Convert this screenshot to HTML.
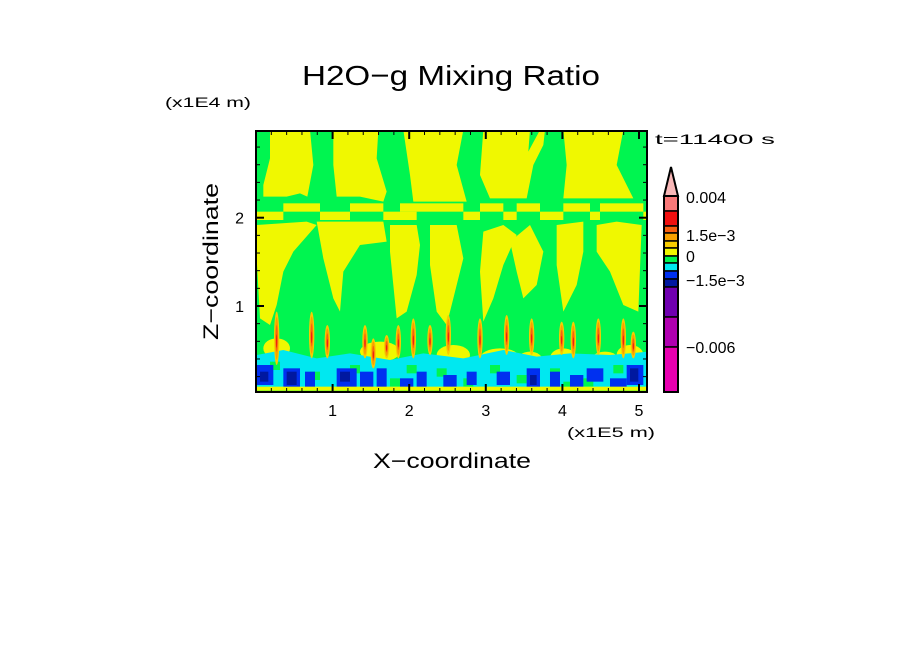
<!DOCTYPE html>
<html><head><meta charset="utf-8"><style>
html,body{margin:0;padding:0;background:#fff;}
svg{display:block;font-family:"Liberation Sans",sans-serif;}
</style></head><body>
<svg id="chart" width="904" height="654" viewBox="0 0 904 654">
<rect width="904" height="654" fill="#fff"/>
<text x="302" y="85" font-size="28" textLength="298" lengthAdjust="spacingAndGlyphs">H2O−g Mixing Ratio</text>
<text x="165" y="107" font-size="14" textLength="86" lengthAdjust="spacingAndGlyphs">(x1E4 m)</text>
<text x="655" y="144" font-size="14" textLength="120" lengthAdjust="spacingAndGlyphs">t=11400 s</text>
<text transform="translate(218,340) rotate(-90)" font-size="21" textLength="157" lengthAdjust="spacingAndGlyphs">Z−coordinate</text>
<text x="373" y="468" font-size="21" textLength="158" lengthAdjust="spacingAndGlyphs">X−coordinate</text>
<text x="567" y="437" font-size="14" textLength="88" lengthAdjust="spacingAndGlyphs">(x1E5 m)</text>
<defs><clipPath id="pc"><rect x="256" y="131" width="391" height="261"/></clipPath></defs>
<g id="field" clip-path="url(#pc)">
<rect x="256" y="131" width="391" height="261" fill="#00f550"/>
<g id="fz" transform="translate(250,125) scale(0.33333)"></g>
</g>
<rect x="256" y="131" width="391" height="261" fill="none" stroke="#000" stroke-width="2"/>
<g id="axes"></g>
<g id="cbar"></g>
</svg>
<script>
const NS="http://www.w3.org/2000/svg";
function mk(tag,attrs,parent){const e=document.createElementNS(NS,tag);for(const k in attrs)e.setAttribute(k,attrs[k]);parent.appendChild(e);return e;}
// axis data
const xTicks=[1,2,3,4,5];
const yTicks=[1,2];
const xMinorStep=0.2, yMinorStep=0.2;
const cbLevels=["0.004","1.5e-3","0","-1.5e-3","-0.006"];
const cbLabelY=[197,235,256,280,347];
const cbColors=["#f87878","#f01010","#f86010","#f8a000","#f8cc00","#f0f800","#00f550","#00e8f0","#0030f0","#0018a0","#7000b0","#b000b0","#e800b0"];
const cbEdges=[196,211,226,233,241,248,256,263,271,279,287,317,347,392];
// scales
const X0=256, XS=76.6, Y0=394.3, YS=88.3;
const sx=v=>X0+v*XS, sy=v=>Y0-v*YS;
const ax=document.getElementById('axes');
for(let v=xMinorStep;v<5.1;v+=xMinorStep){
  const major=Math.abs(v-Math.round(v))<1e-6;const L=major?8:4;
  let t=mk('line',{x1:sx(v),x2:sx(v),y1:392,y2:392-L,stroke:'#000','stroke-width':major?2:1},ax);
  
  t=mk('line',{x1:sx(v),x2:sx(v),y1:131,y2:131+L,stroke:'#000','stroke-width':major?2:1},ax);
  
}
for(let v=yMinorStep;v<2.95;v+=yMinorStep){
  const major=Math.abs(v-Math.round(v))<1e-6;const L=major?8:4;
  let t=mk('line',{x1:256,x2:256+L,y1:sy(v),y2:sy(v),stroke:'#000','stroke-width':major?2:1},ax);
  
  t=mk('line',{x1:647,x2:647-L,y1:sy(v),y2:sy(v),stroke:'#000','stroke-width':major?2:1},ax);
  
}
xTicks.forEach(v=>{const t=mk('text',{x:sx(v),y:416,'font-size':16,'text-anchor':'middle'},ax);t.textContent=v;
});
yTicks.forEach(v=>{const t=mk('text',{x:244,y:sy(v)+6,'font-size':16,'text-anchor':'end'},ax);t.textContent=v;
});
// colorbar
const cb=document.getElementById('cbar');
let tri=mk('polygon',{points:'664,196 671,167 678,196',fill:'#f8b8b8',stroke:'#000','stroke-width':2},cb);

cbColors.forEach((c,i)=>{const r=mk('rect',{x:664,y:cbEdges[i],width:14,height:cbEdges[i+1]-cbEdges[i],fill:c,stroke:'#000','stroke-width':1.5},cb);
});
mk('rect',{x:664,y:196,width:14,height:196,fill:'none',stroke:'#000','stroke-width':2},cb);
cbLevels.forEach((s,i)=>{const t=mk('text',{x:686,y:cbLabelY[i]+6,'font-size':16},cb);t.textContent=s.replace(/-/g,'−');
});
// field (zoom-coordinate shapes)
const fz=document.getElementById('fz');
const Y='#f0f800',G='#00f550';
const yellowPolys=[
"60,15 180,15 190,120 172,215 150,205 110,215 40,215 40,180 60,100",
"250,15 385,15 380,100 410,200 400,230 330,215 260,215 250,120",
"460,15 640,15 620,120 650,230 490,230 480,150",
"700,15 840,15 835,80 870,15 885,15 880,60 850,120 830,220 720,220 690,150",
"940,15 1120,15 1100,120 1150,220 940,220 950,120",
"20,300 170,290 200,300 130,380 100,440 80,540 60,600 30,580 20,400",
"200,290 400,290 410,350 330,360 280,440 270,560 250,520 220,400",
"420,300 500,300 510,360 500,450 470,560 440,580 430,480 420,380",
"540,300 620,300 640,400 610,520 590,600 560,560 540,420",
"700,320 760,300 800,330 760,420 730,520 700,590 690,440",
"780,350 840,300 880,380 860,480 820,520 800,440",
"920,300 1000,290 1000,380 980,480 940,560 920,420",
"1040,300 1100,290 1175,300 1165,560 1120,540 1080,440 1040,380"];
yellowPolys.forEach(p=>mk('polygon',{points:p,fill:Y},fz));
const rowA=[[100,210],[300,400],[450,640],[690,760],[800,870],[940,1020],[1050,1180]];
const rowB=[[20,100],[210,300],[400,500],[640,690],[760,800],[870,940],[1020,1050],[1180,1200]];
rowA.forEach(s=>mk('rect',{x:s[0],y:235,width:s[1]-s[0],height:25,fill:Y},fz));
rowB.forEach(s=>mk('rect',{x:s[0],y:260,width:s[1]-s[0],height:25,fill:Y},fz));
// yellow patches near ground
[[40,640,80],[330,650,120],[560,660,100],[690,670,120],[800,680,80],[900,670,80],[1020,680,90],[1100,660,80]].forEach(p=>mk('ellipse',{cx:p[0]+p[2]/2,cy:p[1]+30,rx:p[2]/2,ry:30,fill:Y},fz));
// cyan band
mk('polygon',{points:"20,690 100,675 200,700 300,685 420,705 520,685 640,700 760,675 860,695 960,685 1080,690 1195,680 1195,795 20,795",fill:'#00e8f0'},fz);
// green speckle in cyan band
[[60,710],[180,740],[300,720],[420,760],[560,730],[640,760],[720,720],[800,750],[900,730],[1000,760],[1090,720],[470,720],[940,770]].forEach(p=>mk('rect',{x:p[0],y:p[1],width:30,height:25,fill:G},fz));
// blue patches
const blues=[[20,720,50,60],[100,730,50,60],[165,740,30,50],[260,730,60,60],[330,740,40,50],[380,730,30,60],[450,760,40,30],[500,740,30,50],[580,750,40,40],[650,740,30,40],[740,740,40,40],[830,730,40,60],[900,740,30,50],[960,750,40,40],[1010,730,50,40],[1080,760,50,30],[1130,720,50,60]];
blues.forEach(b=>mk('rect',{x:b[0],y:b[1],width:b[2],height:b[3],fill:'#0030f0'},fz));
[[30,740,25,30],[110,740,30,40],[270,740,30,30],[1140,730,25,40],[840,750,20,30]].forEach(b=>mk('rect',{x:b[0],y:b[1],width:b[2],height:b[3],fill:'#0018a0'},fz));
mk('rect',{x:20,y:785,width:1180,height:12,fill:Y},fz);
// plumes
const plumes=[[80,560,720],[185,560,700],[232,600,700],[345,600,700],[370,640,730],[410,630,700],[445,600,700],[490,580,700],[540,600,690],[595,570,690],[690,580,700],[770,570,690],[845,580,690],[935,590,690],[970,590,700],[1045,580,690],[1120,580,700],[1150,620,700]];
plumes.forEach(p=>{
  const cx=p[0],cy=(p[1]+p[2])/2,h=(p[2]-p[1])/2;
  mk('ellipse',{cx:cx,cy:cy,rx:8,ry:h,fill:'#f8cc00'},fz);
  mk('ellipse',{cx:cx,cy:cy,rx:5,ry:h*0.8,fill:'#f8a000'},fz);
  mk('ellipse',{cx:cx,cy:cy,rx:3,ry:h*0.5,fill:'#f86010'},fz);
  mk('ellipse',{cx:cx,cy:cy+h*0.1,rx:1.5,ry:h*0.25,fill:'#f01010'},fz);
});
</script>
</body></html>
